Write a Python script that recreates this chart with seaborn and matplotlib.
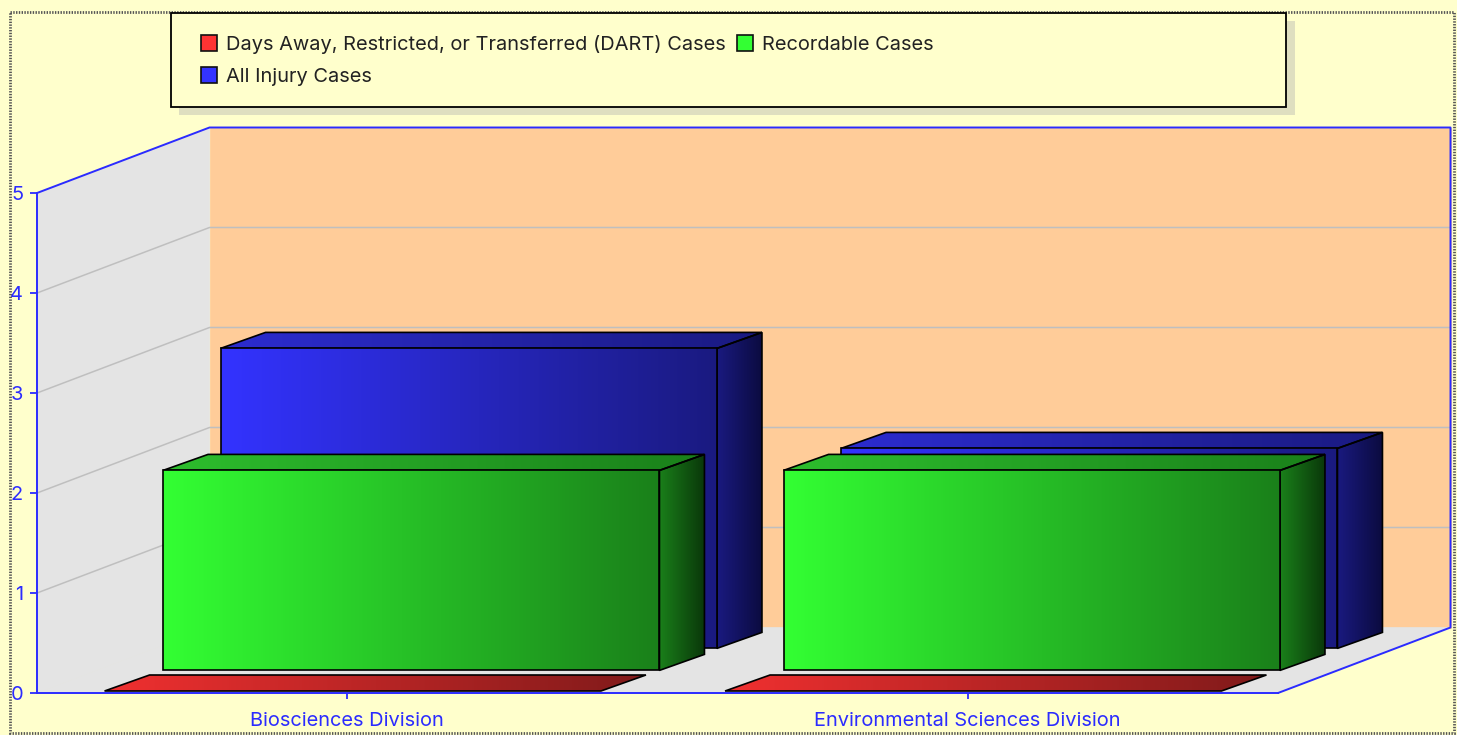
"""3D-look injury case bars, built from seaborn bars plus projected faces."""

import numpy as np
import pandas as pd
import matplotlib
matplotlib.use("Agg")
import matplotlib.pyplot as plt
import seaborn as sns
from matplotlib.colors import LinearSegmentedColormap
from matplotlib.patches import Patch, Polygon, Rectangle
from matplotlib.transforms import Affine2D

# ── data ─────────────────────────────────────────────────────────────────────
divisions = ["Biosciences Division", "Environmental Sciences Division"]
dart_cases = [0, 0]
recordable_cases = [2, 2]
injury_cases = [3, 2]
series_names = [
    "Days Away, Restricted, or Transferred (DART) Cases",
    "Recordable Cases",
    "All Injury Cases",
]
y_ticks = [0, 1, 2, 3, 4, 5]

# ── style ────────────────────────────────────────────────────────────────────
W, H = 1457, 735
X0, X1, Y0, Y5 = 37, 1278, 693, 193      # front plane in picture pixels
BACK_DX, BACK_DY = 172.5, 65.5           # wall depth
BAR_DX, BAR_DY = 45, 16                  # bar depth
SHIFT = {series_names[0]: (5.5, 2), series_names[1]: (64, 22.6), series_names[2]: (121.5, 44.6)}
BG, WALL, PEACH = "#FFFFCC", "#E4E4E4", "#FFCC99"
BLUE = "#2B2BFF"
GRID = "#BFBFBF"
FONT_PT = 14.4
# front left, front right / side start, side end, top left
SHADES = {
    series_names[0]: ("#FF3333", "#801A1A", "#400D0D", "#F03030"),
    series_names[1]: ("#33FF33", "#1A801A", "#0A380A", "#2DBE2D"),
    series_names[2]: ("#3333FF", "#1A1A80", "#0B0B40", "#2C2CD0"),
}
ZORDER = {series_names[0]: 7, series_names[1]: 6, series_names[2]: 5}

sns.set_theme(style="white")
plt.rcParams["font.family"] = ["Inter", "DejaVu Sans"]
plt.rcParams.update({
    "font.size": FONT_PT,
    "legend.fontsize": FONT_PT,
    "xtick.labelsize": FONT_PT,
    "ytick.labelsize": FONT_PT,
})

df = pd.DataFrame({
    "division": divisions * 3,
    "series": np.repeat(series_names, 2),
    "cases": dart_cases + recordable_cases + injury_cases,
})

fig = plt.figure(figsize=(W / 100, H / 100), dpi=100, facecolor=BG)
ax = fig.add_axes([X0 / W, 1 - Y0 / H, (X1 - X0) / W, (Y0 - Y5) / H])
ax.patch.set_alpha(0)
px = Affine2D().scale(1 / W, -1 / H).translate(0, 1) + fig.transFigure

sns.barplot(
    data=df, x="division", y="cases", hue="series", hue_order=series_names,
    dodge=False, width=0.8, legend=False, ax=ax,
)

x_lo, x_hi = -0.5, 1.5
ux, uy = (x_hi - x_lo) / (X1 - X0), 5 / (Y0 - Y5)   # data units per pixel


def shifted(x, y, dx=0, dy=0):
    return (x + dx * ux, y + dy * uy)


def grad_face(verts, c0, c1, z):
    verts = np.array(verts)
    cmap = LinearSegmentedColormap.from_list("g", [c0, c1])
    im = ax.imshow(
        np.linspace(0, 1, 256)[None, :], cmap=cmap, aspect="auto", zorder=z,
        interpolation="bilinear", origin="lower",
        extent=(verts[:, 0].min(), verts[:, 0].max(),
                verts[:, 1].min(), max(verts[:, 1].max(), verts[:, 1].min() + 1e-3)),
    )
    edge = Polygon(verts, closed=True, fc="none", ec="black", lw=1.2, zorder=z + 0.1,
                   clip_on=False, joinstyle="miter")
    ax.add_patch(edge)
    im.set_clip_path(Polygon(verts, closed=True, transform=ax.transData))
    im.set_clip_box(fig.bbox)  # faces stick out past the axes box


# ── walls, floor and grid ────────────────────────────────────────────────────
corner = [(x_lo, 0), (x_hi, 0), (x_hi, 5), (x_lo, 5)]
floor = [corner[0], corner[1], shifted(*corner[1], BACK_DX, BACK_DY), shifted(*corner[0], BACK_DX, BACK_DY)]
left_wall = [corner[0], corner[3], shifted(*corner[3], BACK_DX, BACK_DY), shifted(*corner[0], BACK_DX, BACK_DY)]
back_wall = [shifted(*c, BACK_DX, BACK_DY) for c in corner]
ax.add_patch(Polygon(back_wall, fc=PEACH, ec=PEACH, lw=0.5, zorder=0.5, clip_on=False))
ax.add_patch(Polygon(floor, fc=WALL, ec=WALL, lw=0.5, zorder=0.6, clip_on=False))
ax.add_patch(Polygon(left_wall, fc=WALL, ec=WALL, lw=0.5, zorder=0.6, clip_on=False))

for t in y_ticks[1:-1]:
    a = (x_lo, t)
    b = shifted(x_lo, t, BACK_DX, BACK_DY)
    c = shifted(x_hi, t, BACK_DX, BACK_DY)
    ax.plot([a[0], b[0], c[0]], [a[1], b[1], c[1]], color=GRID, lw=1.1, zorder=0.8, clip_on=False)

# blue outline running round the box
outline = [
    floor[1], floor[2], back_wall[2], back_wall[3], left_wall[1],
]
ax.plot(*zip(*outline), color=BLUE, lw=1.4, zorder=4, clip_on=False)

# ── bars: seaborn's rectangles become the front faces ────────────────────────
for name, container in zip(series_names, ax.containers):
    sx, sy = SHIFT[name]
    c_light, c_mid, c_dark, c_top = SHADES[name]
    z = ZORDER[name]
    for bar in container:
        left, width = bar.get_x(), bar.get_width()
        height = bar.get_height()
        bar.set_x(left + sx * ux)
        bar.set_y(sy * uy)
        bar.set_visible(False)
        l, b = bar.get_x(), bar.get_y()
        r, t = l + width, b + height
        top = [(l, t), (r, t), shifted(r, t, BAR_DX, BAR_DY), shifted(l, t, BAR_DX, BAR_DY)]
        grad_face(top, c_top, c_mid, z)
        if height > 0:
            side = [(r, b), shifted(r, b, BAR_DX, BAR_DY), shifted(r, t, BAR_DX, BAR_DY), (r, t)]
            grad_face(side, c_mid, c_dark, z)
            grad_face([(l, b), (r, b), (r, t), (l, t)], c_light, c_mid, z + 0.2)

# ── axes ─────────────────────────────────────────────────────────────────────
ax.set_xlim(x_lo, x_hi)
ax.set_ylim(0, 5)
ax.set_yticks(y_ticks)
ax.set_xlabel("")
ax.set_ylabel("")
ax.tick_params(axis="both", colors=BLUE, width=1.3, direction="out", bottom=True, left=True)
ax.tick_params(axis="x", pad=9.5, length=4)
ax.tick_params(axis="y", pad=5, length=5)
for side_name, spine in ax.spines.items():
    spine.set_visible(side_name in ("left", "bottom"))
    spine.set_color(BLUE)
    spine.set_linewidth(1.4)
    spine.set_zorder(8)
for lab in ax.get_xticklabels() + ax.get_yticklabels():
    lab.set_color(BLUE)

# ── chrome: dotted frame, legend box with shadow ─────────────────────────────
fig.add_artist(Rectangle((10, 11.5), 1444, 722, transform=px, fc="none", ec="#555555",
                         lw=2, ls=(0, (0.5, 0.5))))
fig.add_artist(Rectangle((179, 21), 1116, 94, transform=px, fc="#DFDFC0", ec="none"))
fig.add_artist(Rectangle((171, 13), 1115, 94, transform=px, fc=BG, ec="black", lw=1.3))

handles = [Patch(fc=SHADES[n][0], ec="#111111", lw=1.2, label=n)
           for n in (series_names[0], series_names[2], series_names[1])]
leg = fig.legend(
    handles=handles, ncols=2, frameon=False, loc="upper left",
    bbox_to_anchor=(201, 35), bbox_transform=px, borderpad=0, borderaxespad=0,
    handlelength=0.81, handleheight=0.81, handletextpad=0.46,
    columnspacing=0.52, labelspacing=0.66, labelcolor="#222222",
)

fig.savefig("out.png", dpi=100, facecolor=BG)
